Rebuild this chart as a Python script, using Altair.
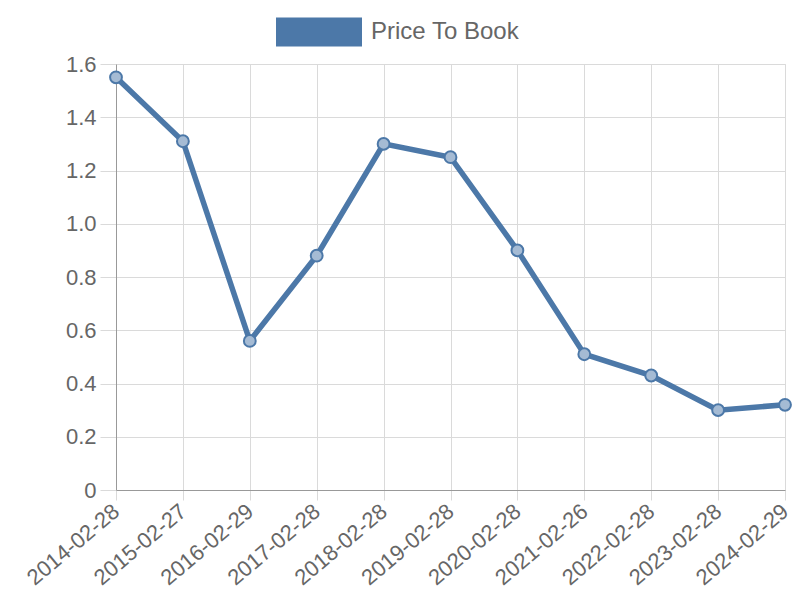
import altair as alt
import pandas as pd

dates = ["2014-02-28", "2015-02-27", "2016-02-29", "2017-02-28", "2018-02-28",
         "2019-02-28", "2020-02-28", "2021-02-26", "2022-02-28", "2023-02-28",
         "2024-02-29"]
values = [1.55, 1.31, 0.56, 0.88, 1.30, 1.25, 0.90, 0.51, 0.43, 0.30, 0.32]
series_name = "Price To Book"
y_ticks = [0, 0.2, 0.4, 0.6, 0.8, 1.0, 1.2, 1.4, 1.6]

df = pd.DataFrame({"date": dates, "value": values, "series": [series_name] * len(dates)})

BLUE = "#4c78a8"
FONT = "Liberation Sans"
GRID = "#dadada"

x_enc = alt.X("date:O", sort=None, title=None,
              scale=alt.Scale(type="point", padding=0),
              axis=alt.Axis(labelAngle=-40, labelAlign="right", labelBaseline="middle",
                            labelFontSize=22, labelColor="#666", labelFont=FONT,
                            labelPadding=8, tickSize=10, tickColor=GRID,
                            domainColor="#999", grid=True, gridColor=GRID,
                            labelOverlap=False, labelBound=False))
y_enc = alt.Y("value:Q", title=None,
              scale=alt.Scale(domain=[0, 1.6], nice=False),
              axis=alt.Axis(values=y_ticks, labelFontSize=22, labelColor="#666", labelFont=FONT,
                            labelExpr="datum.value == 0 ? '0' : format(datum.value, '.1f')",
                            tickSize=16, tickColor=GRID, labelPadding=4,
                            domainColor="#999", grid=True, gridColor=GRID))

line = alt.Chart(df).mark_line(strokeWidth=5.5).encode(
    x=x_enc, y=y_enc,
    color=alt.Color("series:N", scale=alt.Scale(range=[BLUE]),
                    legend=alt.Legend(title=None, orient="none", legendX=160, legendY=-75,
                                      symbolType="M-1,-0.337L1,-0.337L1,0.337L-1,0.337Z",
                                      symbolSize=7396, symbolFillColor=BLUE,
                                      symbolStrokeWidth=0, symbolOpacity=1,
                                      labelFontSize=24, labelColor="#666", labelFont=FONT,
                                      labelOffset=9)),
)

points = alt.Chart(df).mark_point(shape="circle", size=140, filled=False,
                                  fill="#a5bbd4", fillOpacity=1,
                                  stroke=BLUE, strokeWidth=2, opacity=1).encode(
    x=x_enc, y=y_enc,
)

chart = alt.layer(line, points).properties(
    width=669, height=426,
    autosize=alt.AutoSizeParams(type="none"),
    padding={"left": 108, "top": 56, "right": 7, "bottom": 102},
).configure_view(stroke=None).configure(background="white")

chart.save("out.html", embed_options={"renderer": "svg", "actions": False})
